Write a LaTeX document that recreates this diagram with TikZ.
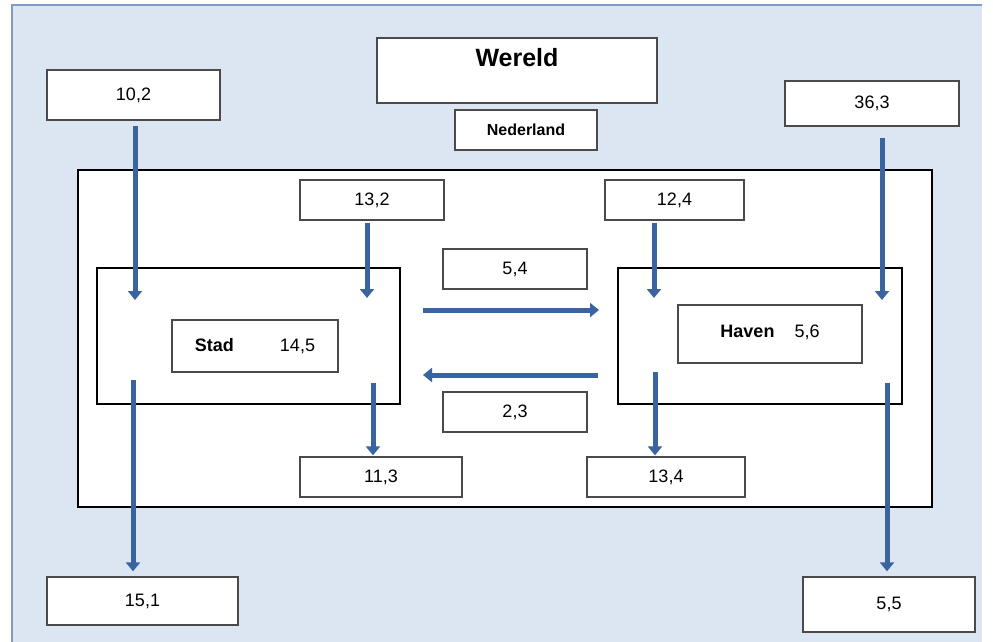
\documentclass[tikz,border=0pt]{standalone}
\usepackage{fontspec}
\setmainfont{Liberation Sans}
\usetikzlibrary{arrows.meta}
\definecolor{bgblue}{HTML}{DCE6F2}
\definecolor{bgedge}{HTML}{7F9CC4}
\definecolor{flowblue}{HTML}{3A64A0}
\definecolor{boxedge}{HTML}{4A4A4A}
\tikzset{
  valbox/.style={draw=boxedge, line width=1.3pt, fill=white, inner sep=0pt,
    font=\fontsize{18}{20}\selectfont},
  sector/.style={draw=black, line width=2.6pt, fill=white, inner sep=0pt},
  flow/.style={draw=flowblue, line width=5pt, -{Triangle[width=14pt,length=9pt]}},
}
\begin{document}
\begin{tikzpicture}[x=1pt,y=-1pt]
\useasboundingbox (0,0) rectangle (993,642);
% background panel
\fill[bgblue] (12,5) rectangle (982,642);
\draw[bgedge, line width=1.6pt] (12,642) -- (12,5) -- (982,5);

% top boxes
\node[valbox, minimum width=173pt, minimum height=50pt] (b102) at (133.5,95) {10,2};
\node[valbox, minimum width=280pt, minimum height=65pt,
  label={[font=\fontsize{25}{28}\selectfont\bfseries, yshift=13pt]center:Wereld}] (wereld) at (517,70.5) {};
\node[valbox, minimum width=142pt, minimum height=40pt, font=\fontsize{16}{18}\selectfont\bfseries] (ned) at (526,130) {Nederland};
\node[valbox, minimum width=174pt, minimum height=45pt] (b363) at (872,103.5) {36,3};

% Nederland frame
\node[sector, minimum width=854pt, minimum height=337pt] (nl) at (505,338.5) {};

\node[valbox, minimum width=144pt, minimum height=40pt] (b132) at (372,200) {13,2};
\node[valbox, minimum width=139pt, minimum height=40pt] (b124) at (674.5,200) {12,4};
\node[valbox, minimum width=144pt, minimum height=40pt] (b54) at (515,269) {5,4};
\node[valbox, minimum width=144pt, minimum height=40pt] (b23) at (515,412) {2,3};
\node[valbox, minimum width=162pt, minimum height=40pt] (b113) at (381,477) {11,3};
\node[valbox, minimum width=158pt, minimum height=40pt] (b134) at (666,477) {13,4};

% sectors
\node[sector, minimum width=303pt, minimum height=136pt] (stadO) at (248.5,336) {};
\node[valbox, minimum width=166pt, minimum height=52pt] (stadI) at (255,346)
  {\raisebox{3pt}{\bfseries Stad}\hspace{46pt}\raisebox{3pt}{14,5}};
\node[sector, minimum width=284pt, minimum height=136pt] (havenO) at (760,336) {};
\node[valbox, minimum width=184pt, minimum height=58pt] (havenI) at (770,334)
  {\raisebox{5pt}{\bfseries Haven}\hspace{20pt}\raisebox{5pt}{5,6}};

% bottom boxes
\node[valbox, minimum width=191pt, minimum height=48pt] (b151) at (142.5,601) {15,1};
\node[valbox, minimum width=172pt, minimum height=55pt] (b55) at (889,604.5) {5,5};

% free ends of the flows
\coordinate (in1) at (135,300);
\coordinate (in2) at (367,298);
\coordinate (in3) at (654,298);
\coordinate (in4) at (882,300);
\coordinate (ex1s) at (423,310);
\coordinate (ex1e) at (599,310);
\coordinate (im1s) at (598,375);
\coordinate (im1e) at (423,375);
\coordinate (out1) at (133,380);
\coordinate (out2) at (373,383);
\coordinate (out3) at (655,372);
\coordinate (out4) at (887,383);

% inflows
\draw[flow] ([yshift=-5pt]b102.south -| in1) -- (in1);
\draw[flow] ([yshift=-2pt]b132.south -| in2) -- (in2);
\draw[flow] ([yshift=-2pt]b124.south -| in3) -- (in3);
\draw[flow] ([yshift=-11pt]b363.south -| in4) -- (in4);
% exchange between Stad and Haven
\draw[flow] (ex1s) -- (ex1e);
\draw[flow] (im1s) -- (im1e);
% outflows
\draw[flow] (out1) -- ([yshift=5pt]b151.north -| out1);
\draw[flow] (out2) -- ([yshift=1pt]b113.north -| out2);
\draw[flow] (out3) -- ([yshift=1pt]b134.north -| out3);
\draw[flow] (out4) -- ([yshift=5pt]b55.north -| out4);
\end{tikzpicture}
\end{document}
